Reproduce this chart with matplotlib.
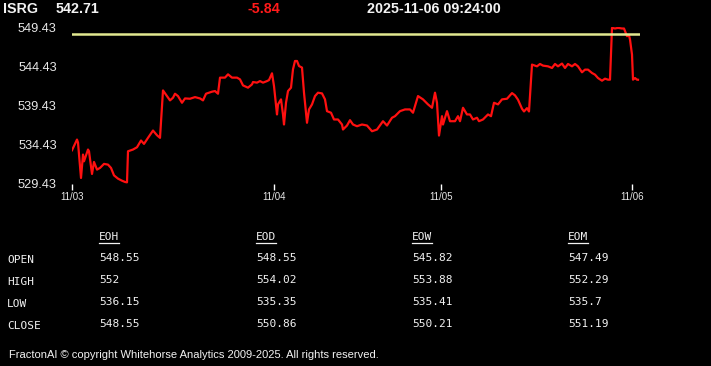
import matplotlib
matplotlib.use("Agg")
import matplotlib.pyplot as plt
from matplotlib.lines import Line2D

W, H = 711, 366
BACKGROUND = "#000000"
LINE_COLOR = "#ff1010"
PREV_COLOR = "#e2e890"
TEXT_COLOR = "#f2f2f2"

SYMBOL = "ISRG"
LAST_PRICE = 542.71
CHANGE = -5.84
TIMESTAMP = "2025-11-06 09:24:00"
PREV_CLOSE = 548.55

# intraday bars (bar number along the session axis) and prices
BARS = [
    0, 5, 6, 9, 11, 12, 16, 17, 20, 22, 25, 28, 32, 36, 39, 42, 46, 50, 53, 55,
    56, 61, 65, 69, 72, 76, 81, 85, 88, 91, 95, 98, 101, 103, 106, 110, 113, 118, 123, 128,
    131, 134, 140, 143, 146, 148, 153, 156, 160, 165, 168, 171, 176, 180, 181, 185, 188, 191, 195, 197,
    200, 202, 205, 206, 209, 211, 212, 214, 216, 219, 221, 223, 225, 227, 230, 232, 235, 237, 240, 243,
    246, 250, 253, 255, 259, 262, 266, 270, 271, 275, 278, 281, 285, 290, 295, 300, 305, 311, 315, 320,
    323, 328, 333, 338, 341, 346, 351, 356, 360, 363, 365, 367, 370, 371, 375, 378, 383, 386, 388, 391,
    395, 398, 401, 405, 407, 411, 416, 419, 422, 426, 430, 435, 440, 443, 446, 450, 452, 455, 457, 460,
    465, 468, 471, 476, 480, 483, 486, 490, 493, 496, 500, 503, 506, 510, 513, 516, 520, 523, 526, 530,
    533, 536, 538, 540, 543, 546, 550, 552, 555, 557, 558, 560, 561, 563, 565, 566,
]
PRICES = [
    533.73, 535.09, 534.71, 530.20, 533.18, 532.32, 533.82, 533.60, 530.71, 532.24,
    531.26, 531.48, 531.99, 531.90, 531.48, 530.53, 530.11, 529.85, 529.69, 529.64,
    533.60, 533.82, 534.11, 534.97, 534.54, 535.31, 536.24, 535.64, 535.31, 541.35,
    540.63, 540.08, 540.42, 540.93, 540.63, 539.78, 540.33, 540.29, 540.50, 540.33,
    540.08, 540.93, 541.19, 541.27, 540.93, 542.98, 542.98, 543.40, 542.98, 542.98,
    542.76, 541.99, 541.70, 542.12, 542.42, 542.34, 542.54, 542.34, 542.54, 542.67,
    543.53, 541.90, 538.29, 539.57, 540.21, 538.29, 537.01, 539.78, 541.27, 541.70,
    544.04, 545.10, 545.10, 544.46, 544.26, 541.06, 537.23, 538.93, 539.57, 540.63,
    541.06, 540.97, 540.21, 538.71, 538.51, 537.65, 537.65, 537.01, 536.37, 536.88,
    537.56, 537.01, 536.79, 537.01, 536.88, 536.15, 536.37, 537.43, 536.88, 537.87,
    538.07, 538.71, 538.93, 538.93, 538.51, 540.63, 540.21, 539.57, 539.14, 541.06,
    539.78, 535.60, 538.07, 537.01, 538.71, 537.43, 537.43, 538.07, 537.43, 539.14,
    538.29, 538.29, 537.65, 537.87, 537.43, 537.65, 538.29, 538.07, 539.78, 539.57,
    540.21, 540.29, 541.01, 540.72, 540.17, 539.02, 538.67, 539.09, 538.67, 544.64,
    544.42, 544.72, 544.51, 544.42, 544.21, 544.72, 544.42, 544.77, 544.21, 544.72,
    544.42, 544.72, 544.42, 543.66, 544.00, 544.00, 543.57, 543.36, 542.93, 542.59,
    542.85, 542.72, 542.72, 549.32, 549.24, 549.32, 549.24, 549.24, 548.26, 548.38,
    547.83, 545.92, 542.72, 542.93, 542.72, 542.71,
]

DAY_TICKS = [0, 202, 369, 560]
DAY_LABELS = ["11/03", "11/04", "11/05", "11/06"]
Y_TICKS = [529.43, 534.43, 539.43, 544.43, 549.43]

PERIODS = ["EOH", "EOD", "EOW", "EOM"]
ROWS = ["OPEN", "HIGH", "LOW", "CLOSE"]
OPEN = ["548.55", "548.55", "545.82", "547.49"]
HIGH = ["552", "554.02", "553.88", "552.29"]
LOW = ["536.15", "535.35", "535.41", "535.7"]
CLOSE = ["548.55", "550.86", "550.21", "551.19"]

FOOTER = "FractonAI \u00a9 copyright Whitehorse Analytics 2009-2025. All rights reserved."


def px(x, y):
    return x / W, 1 - y / H


fig = plt.figure(figsize=(W / 100, H / 100), dpi=100)
fig.patch.set_facecolor(BACKGROUND)

ax = fig.add_axes([72 / W, 1 - 184 / H, 568 / W, 157 / H])
ax.set_facecolor(BACKGROUND)
ax.plot(BARS, PRICES, color=LINE_COLOR, linewidth=1.6, solid_joinstyle="round")
ax.axhline(PREV_CLOSE, color=PREV_COLOR, linewidth=1.8)
ax.set_xlim(0, 568)
ax.set_ylim(Y_TICKS[0], Y_TICKS[-1])

for side in ("top", "right", "left", "bottom"):
    ax.spines[side].set_visible(False)

ax.set_yticks(Y_TICKS)
ax.set_yticklabels([f"{v:.2f}" for v in Y_TICKS])
ax.tick_params(axis="y", length=0, pad=11, labelsize=9.2, labelcolor="#e8e8e8")
ax.set_xticks(DAY_TICKS)
ax.set_xticklabels(DAY_LABELS)
ax.tick_params(axis="x", length=4, width=1, color="#ffffff", pad=2,
               labelsize=7, labelcolor="#e8e8e8")
for lbl in ax.get_xticklabels() + ax.get_yticklabels():
    lbl.set_fontfamily("Liberation Sans")

# header line
head = dict(color=TEXT_COLOR, fontsize=10.3, fontweight="bold", family="Liberation Sans", va="center")
fig.text(*px(3, 9), SYMBOL, **head)
fig.text(*px(56, 9), f"{LAST_PRICE:.2f}", **head)
fig.text(*px(247, 9), f"{CHANGE:.2f}", **{**head, "color": "#ff1a1a"})
fig.text(*px(367, 9), TIMESTAMP, **head)

# summary table
mono = dict(color=TEXT_COLOR, fontsize=8, family="DejaVu Sans Mono", va="center")
col_x = [99, 256, 412, 568]
row_y = [258, 280, 302, 324]
headers = []
for cx, name in zip(col_x, PERIODS):
    headers.append(fig.text(*px(cx, 237), name, **mono))
for ry, name in zip(row_y, ROWS):
    fig.text(*px(7, ry + 2), name, **mono)
for ry, vals in zip(row_y, [OPEN, HIGH, LOW, CLOSE]):
    for cx, v in zip(col_x, vals):
        fig.text(*px(cx, ry), v, **mono)

fig.text(*px(9, 355), FOOTER, color=TEXT_COLOR, fontsize=8.0,
         family="Liberation Sans", va="center")

fig.canvas.draw()
renderer = fig.canvas.get_renderer()
for t in headers:
    bb = t.get_window_extent(renderer)
    y = bb.y0 - 1
    fig.add_artist(Line2D([bb.x0 / W, bb.x1 / W], [y / H, y / H],
                          color=TEXT_COLOR, linewidth=0.9))

fig.savefig("out.png", dpi=100, facecolor=BACKGROUND)
